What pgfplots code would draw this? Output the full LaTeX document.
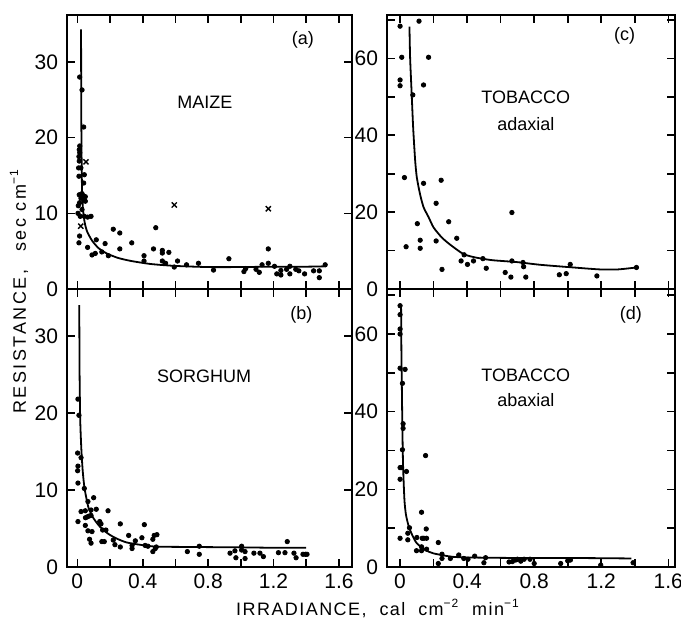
\documentclass[border=0pt]{standalone}
\usepackage{fontspec}
\setmainfont{Liberation Sans}
\usepackage{pgfplots}
\pgfplotsset{compat=1.18}
\usepgfplotslibrary{groupplots}
\usetikzlibrary{calc}

\pgfplotsset{
  dots/.style={only marks, mark=*, mark size=1.1pt, black},
  crosses/.style={only marks, mark=x, mark size=1.8pt, black, mark options={line width=0.7pt}},
  fit/.style={black, line width=0.9pt, smooth, tension=0.4, mark=none},
}

\begin{document}
\begin{tikzpicture}[font=\fontsize{9}{11}\selectfont]
\begin{groupplot}[
  group style={group size=2 by 2, horizontal sep=17.5pt, vertical sep=0pt},
  scale only axis,
  axis line style={line width=0.8pt},
  every tick/.style={black, line width=0.8pt},
  major tick length=4pt,
  tick align=inside,
  xtick={0,0.2,0.4,0.6,0.8,1.0,1.2,1.4,1.6},
  ticklabel style={font=\fontsize{10.5}{12}\selectfont},
  yticklabel style={xshift=-1pt},
  ymin=0,
  clip=false,
]

% (a) maize
\nextgroupplot[width=142.5pt, height=137pt, xmin=-0.063, xmax=1.68, ymax=36.2,
  ytick={0,10,20,30}, yticklabels={0,10,20,30}, xticklabels={}]
\addplot[dots] coordinates {
  (0.0145,28.0) (0.029,26.3) (0.039,21.4) (0.015,18.9) (0.012,18.4) (0.015,18.0)
  (0.010,17.5) (0.012,16.9) (0.008,16.0) (0.022,16.0) (0.043,15.1) (0.010,14.9)
  (0.039,14.0) (0.012,12.45) (0.029,12.6) (0.039,12.3) (0.049,12.2) (0.022,12.0)
  (0.039,11.8) (0.049,11.6) (0.014,11.4) (0.006,11.0) (0.029,10.5) (0.004,10.0)
  (0.018,9.6) (0.043,9.6) (0.063,9.5) (0.084,9.6) (0.014,7.0) (0.010,6.1)
  (0.063,5.5) (0.09,4.5) (0.11,4.7) (0.116,6.5) (0.17,6.0) (0.15,4.9) (0.19,4.4)
  (0.22,7.9) (0.26,7.4) (0.26,5.3) (0.333,6.1) (0.408,4.4) (0.408,3.7) (0.466,5.3)
  (0.48,8.1) (0.52,5.1) (0.52,4.75) (0.52,3.7) (0.54,3.4) (0.56,4.84) (0.593,2.9)
  (0.613,3.7) (0.668,3.2) (0.741,3.4) (0.833,2.5) (0.927,4.0) (1.019,2.3) (1.03,2.7)
  (1.093,2.6) (1.113,2.2) (1.13,3.2) (1.168,5.3) (1.168,3.4) (1.206,3.0) (1.22,2.0)
  (1.245,1.85) (1.245,2.45) (1.28,2.6) (1.30,3.0) (1.30,2.0) (1.336,2.6) (1.355,2.4)
  (1.39,2.0) (1.445,2.4) (1.48,2.4) (1.48,1.5) (1.516,3.2)
};
\addplot[crosses] coordinates {(0.053,16.8) (0.593,11.1) (1.168,10.6) (0.021,8.3)};
\addplot[fit] coordinates {
  (0.023,34.3) (0.024,25) (0.026,18) (0.029,13) (0.035,10.5) (0.045,8.8) (0.06,7.6)
  (0.09,6.4) (0.13,5.4) (0.18,4.7) (0.25,4.1) (0.33,3.7) (0.45,3.3) (0.6,3.05)
  (0.8,2.9) (1.0,2.9) (1.2,2.95) (1.4,2.95) (1.52,3.0)
};
\node at (axis cs:1.38,32.9) {(a)};
\node at (axis cs:0.78,24.7) {MAIZE};

% (c) tobacco adaxial
\nextgroupplot[width=144pt, height=137pt, xmin=-0.078, xmax=1.64, ymax=71.3,
  ytick={0,10,20,30,40,50,60,70}, yticklabels={0,,20,,40,,60,}, xticklabels={}]
\addplot[dots] coordinates {
  (0.0,68.4) (0.113,69.7) (0.01,60.3) (0.17,60.3) (0.0,54.4) (0.0,52.9) (0.14,53.1)
  (0.076,50.5) (0.026,29.0) (0.14,27.5) (0.245,28.3) (0.215,22.3) (0.103,17.0)
  (0.29,17.5) (0.036,11.0) (0.12,12.7) (0.12,10.6) (0.215,12.5) (0.338,13.2)
  (0.25,5.1) (0.364,7.3) (0.382,8.9) (0.402,6.4) (0.438,7.3) (0.494,7.9) (0.514,5.4)
  (0.627,4.3) (0.661,3.1) (0.667,19.9) (0.667,7.3) (0.733,6.9) (0.737,5.8) (0.75,3.1)
  (0.95,3.7) (0.991,4.0) (1.015,6.4) (1.174,3.4) (1.41,5.6)
};
\addplot[fit] coordinates {
  (0.056,68.3) (0.06,60) (0.07,50) (0.078,42) (0.09,33.4) (0.1,29) (0.119,24.7)
  (0.14,21.3) (0.17,18.7) (0.2,16) (0.249,13.4) (0.3,11.5) (0.378,9.1) (0.45,8.2)
  (0.55,7.5) (0.697,7.0) (0.836,6.3) (1.035,5.6) (1.19,5.1) (1.3,5.1) (1.41,5.6)
};
\node at (axis cs:1.34,65.8) {(c)};
\node at (axis cs:0.75,49.9) {TOBACCO};
\node at (axis cs:0.75,43) {adaxial};

% (b) sorghum
\nextgroupplot[width=142.5pt, height=139pt, xmin=-0.063, xmax=1.68, ymax=36.1,
  ytick={0,10,20,30}, yticklabels={0,10,20,30},
  xticklabels={0,,0.4,,0.8,,1.2,,1.6}]
\addplot[dots] coordinates {
  (0.004,21.8) (0.010,19.7) (0.002,14.8) (0.004,13.1) (0.002,12.5) (0.004,10.9)
  (0.023,14.2) (0.043,10.2) (0.004,5.9) (0.023,7.2) (0.049,7.3) (0.065,8.5) (0.10,9.0)
  (0.084,7.4) (0.116,7.5) (0.06,6.5) (0.07,6.6) (0.084,6.7) (0.05,6.4) (0.049,5.4)
  (0.065,4.7) (0.09,4.6) (0.075,3.6) (0.084,3.1) (0.188,7.3) (0.137,5.9) (0.145,5.6)
  (0.155,4.8) (0.175,4.8) (0.15,3.3) (0.165,3.3) (0.22,3.5) (0.23,2.9) (0.263,5.6)
  (0.263,2.6) (0.314,4.1) (0.335,2.8) (0.335,2.4) (0.355,3.4) (0.395,3.8) (0.41,5.5)
  (0.415,2.8) (0.432,2.7) (0.462,3.6) (0.47,4.1) (0.487,4.2) (0.462,2.0) (0.477,2.4)
  (0.483,2.6) (0.673,2.0) (0.746,2.7) (0.746,1.65) (0.934,1.8) (0.964,2.1) (0.97,1.2)
  (1.005,2.7) (1.005,2.2) (1.026,2.0) (1.026,1.1) (1.08,1.8) (1.117,1.8) (1.138,1.35)
  (1.23,1.86) (1.27,1.86) (1.284,3.3) (1.325,1.8) (1.338,1.2) (1.38,1.65) (1.395,1.65)
  (1.405,1.65)
};
\addplot[fit] coordinates {
  (0.012,34) (0.014,25) (0.018,19) (0.025,15.2) (0.033,12.5) (0.043,10.4) (0.055,9)
  (0.07,7.6) (0.1,6.3) (0.14,5.2) (0.19,4.3) (0.24,3.7) (0.3,3.2) (0.38,2.9)
  (0.48,2.65) (0.7,2.6) (1.0,2.55) (1.2,2.5) (1.40,2.5)
};
\node at (axis cs:1.37,32.7) {(b)};
\node at (axis cs:0.776,24.8) {SORGHUM};

% (d) tobacco abaxial
\nextgroupplot[width=144pt, height=139pt, xmin=-0.078, xmax=1.64, ymax=71.6,
  ytick={0,10,20,30,40,50,60,70}, yticklabels={0,,20,,40,,60,},
  xticklabels={0,,0.4,,0.8,,1.2,,1.6}]
\addplot[dots] coordinates {
  (0.0,67.3) (0.0,65) (0.0,61.3) (0.0,60) (0.0,51.2) (0.03,50.9) (0.014,47.3)
  (0.018,36.9) (0.018,35.7) (0.014,30.2) (0.0,25.6) (0.008,25.6) (0.038,24.6)
  (0.0,22.6) (0.152,28.7) (0.128,14.1) (0.056,10.1) (0.156,9.8) (0.0,7.4) (0.046,8.7)
  (0.046,7.0) (0.10,7.6) (0.132,7.4) (0.142,7.4) (0.158,7.4) (0.098,4.2) (0.128,4.2)
  (0.128,5.2) (0.158,4.6) (0.228,6.3) (0.25,3.3) (0.25,2.2) (0.30,2.2) (0.35,3.1)
  (0.38,2.2) (0.405,2.0) (0.445,2.8) (0.50,1.1) (0.51,2.4) (0.228,0.9) (0.65,1.3)
  (0.67,1.4) (0.69,1.8) (0.70,2.0) (0.72,1.5) (0.74,2.0) (0.775,2.0) (0.80,0.9)
  (0.958,0.9) (1.0,1.6) (1.016,1.8) (1.197,0.5) (1.39,1.1)
};
\addplot[fit] coordinates {
  (0.006,67) (0.008,55) (0.011,45) (0.014,35) (0.018,25.9) (0.026,17.3) (0.035,13.5)
  (0.052,10.4) (0.075,8) (0.10,6.1) (0.15,4.4) (0.2,3.5) (0.32,2.6) (0.5,2.4)
  (0.8,2.3) (1.1,2.3) (1.38,2.2)
};
\node at (axis cs:1.377,65) {(d)};
\node at (axis cs:0.75,49.5) {TOBACCO};
\node at (axis cs:0.75,43) {abaxial};
\end{groupplot}

\node[rotate=90, font=\fontsize{9}{11}\selectfont\addfontfeature{LetterSpace=14}]
  at ($(group c1r1.north west)+(-24pt,-138pt)$)
  {RESISTANCE,\hspace{9pt}sec\ cm\textsuperscript{−1}};
\node[anchor=base, font=\fontsize{9}{11}\selectfont\addfontfeature{LetterSpace=8}]
  at ($(group c1r2.south west)+(155.5pt,-24pt)$)
  {IRRADIANCE,\ \ cal\ \ cm\textsuperscript{−2}\ \ min\textsuperscript{−1}};

\pgfresetboundingbox
\path[use as bounding box] ($(group c1r1.north west)+(-33.5pt,7.5pt)$)
  rectangle ($(group c2r2.south east)+(3pt,-28pt)$);
\end{tikzpicture}
\end{document}
